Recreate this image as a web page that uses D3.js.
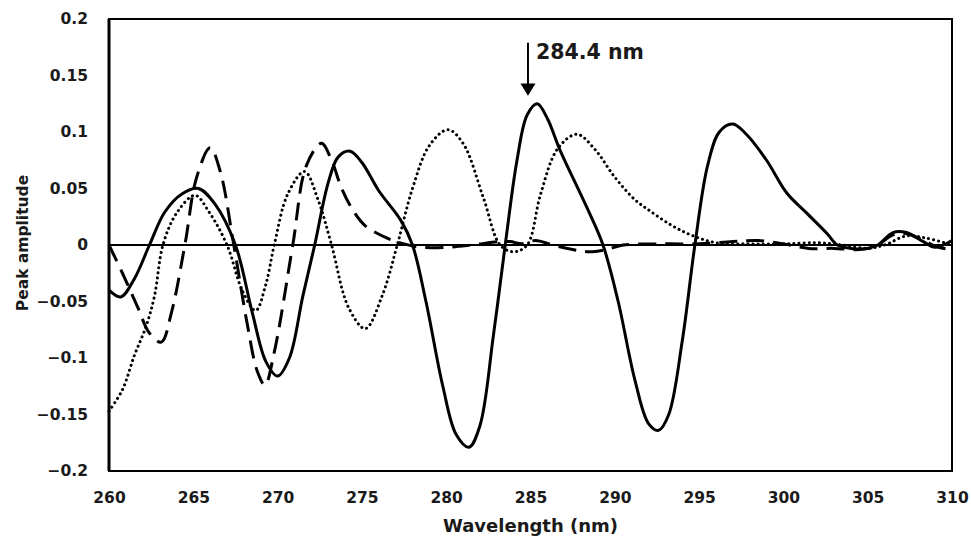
<!DOCTYPE html>
<html>
<head>
<meta charset="utf-8">
<script src="https://cdn.jsdelivr.net/npm/d3@7"></script>
<style>
  body { margin: 0; background: #fff; }
  svg { display: block; font-family: 'DejaVu Sans', sans-serif; font-weight: bold; }
</style>
</head>
<body>
<div id="container"></div>
<script>
// wavelength (nm) / peak amplitude pairs
const solidSeries = [
  [260.0, -0.040], [260.7, -0.046], [261.5, -0.030], [262.4, 0.000], [263.3, 0.029],
  [264.3, 0.045], [265.3, 0.050], [266.3, 0.036], [267.5, 0.000], [268.5, -0.060],
  [269.3, -0.103], [270.0, -0.116], [270.7, -0.100], [271.5, -0.045], [272.2, 0.000],
  [273.0, 0.055], [273.6, 0.078], [274.3, 0.083], [275.0, 0.073], [276.0, 0.048],
  [277.3, 0.022], [278.0, 0.000], [278.8, -0.050], [279.8, -0.125], [280.6, -0.168],
  [281.35, -0.179], [282.0, -0.160], [282.8, -0.080], [283.5, 0.000], [284.2, 0.075],
  [284.8, 0.115], [285.4, 0.125], [286.0, 0.112], [286.75, 0.084], [288.35, 0.033],
  [289.3, 0.000], [290.2, -0.050], [291.2, -0.120], [292.0, -0.158], [292.6, -0.164],
  [293.2, -0.150], [294.0, -0.085], [294.75, 0.000], [295.5, 0.070], [296.2, 0.100],
  [297.0, 0.107], [297.8, 0.098], [299.0, 0.075], [300.2, 0.046], [301.4, 0.028],
  [302.6, 0.010], [303.2, 0.000], [304.0, -0.003], [305.0, -0.003], [305.6, 0.000],
  [306.5, 0.011], [307.3, 0.011], [308.3, 0.003], [309.0, -0.002], [310.0, 0.004]
];

const dashedSeries = [
  [260.0, 0.000], [260.8, -0.025], [261.7, -0.055], [262.4, -0.078], [263.1, -0.086],
  [263.7, -0.060], [264.5, 0.000], [265.2, 0.060], [266.0, 0.086], [266.6, 0.065],
  [267.4, 0.000], [268.2, -0.070], [268.8, -0.112], [269.25, -0.124], [269.8, -0.095],
  [270.9, 0.000], [271.7, 0.070], [272.6, 0.090], [273.2, 0.075], [273.8, 0.050],
  [274.5, 0.030], [275.2, 0.017], [276.5, 0.006], [277.5, 0.001], [278.5, -0.002],
  [280.0, -0.002], [281.5, 0.000], [283.2, 0.003], [283.8, 0.003], [284.5, 0.001],
  [285.3, 0.004], [286.3, 0.000], [287.5, -0.004], [288.5, -0.006], [289.5, -0.004],
  [290.5, 0.000], [293.0, 0.001], [295.0, 0.001], [297.0, 0.003], [298.5, 0.004],
  [300.0, 0.001], [301.5, -0.003], [303.0, -0.003], [304.5, -0.004], [305.5, -0.001],
  [306.5, 0.009], [307.3, 0.010], [308.3, 0.004], [309.2, -0.002], [310.0, -0.004]
];

const dottedSeries = [
  [260.0, -0.147], [260.8, -0.128], [261.5, -0.098], [262.2, -0.072], [262.7, -0.045],
  [263.2, 0.000], [264.0, 0.028], [265.1, 0.044], [265.9, 0.030], [267.0, 0.000],
  [267.9, -0.040], [268.7, -0.058], [269.3, -0.035], [269.8, 0.000], [270.6, 0.045],
  [271.6, 0.065], [272.4, 0.040], [273.2, 0.000], [274.2, -0.055], [275.2, -0.074],
  [276.2, -0.045], [277.1, 0.000], [278.0, 0.050], [279.0, 0.088], [280.1, 0.102],
  [281.0, 0.090], [282.2, 0.042], [283.2, 0.000], [284.0, -0.006], [284.8, 0.000],
  [285.6, 0.045], [286.6, 0.085], [287.75, 0.098], [288.8, 0.085], [290.0, 0.060],
  [291.2, 0.040], [292.1, 0.030], [293.3, 0.018], [294.5, 0.009], [296.0, 0.002],
  [298.0, 0.001], [300.0, 0.001], [302.0, 0.002], [303.5, 0.000], [305.0, -0.003],
  [306.0, 0.000], [307.3, 0.008], [308.5, 0.006], [310.0, 0.000]
];

const xTicks = [260, 265, 270, 275, 280, 285, 290, 295, 300, 305, 310];
const yTicks = [-0.2, -0.15, -0.1, -0.05, 0, 0.05, 0.1, 0.15, 0.2];
const peakMarker = 284.85;
const peakLabel = '284.4 nm';

const width = 971, height = 537;
const margin = { top: 19, right: 19, bottom: 66, left: 109 };

const svg = d3.select('#container').append('svg')
  .attr('width', width)
  .attr('height', height);

const x = d3.scaleLinear().domain([260, 310]).range([margin.left, width - margin.right]);
const y = d3.scaleLinear().domain([-0.2, 0.2]).range([height - margin.bottom, margin.top]);

const fmt = (d) => d === 0 ? '0' : d3.format('')(+d.toFixed(2));

// axes (labels only, the frame is drawn separately)
const xAxis = svg.append('g')
  .attr('transform', `translate(0, ${y(-0.2)})`)
  .call(d3.axisBottom(x).tickValues(xTicks).tickSize(0).tickPadding(21).tickFormat(fmt));

const yAxis = svg.append('g')
  .attr('transform', `translate(${x(260)}, 0)`)
  .call(d3.axisLeft(y).tickValues(yTicks).tickSize(0).tickPadding(21).tickFormat(fmt));

[xAxis, yAxis].forEach((g) => {
  g.select('.domain').remove();
  g.selectAll('text')
    .style('font-family', "'DejaVu Sans', sans-serif")
    .style('font-weight', 'bold')
    .style('font-size', '15.5px')
    .attr('fill', '#1a1a1a');
});

// zero line
svg.append('line')
  .attr('x1', x(260)).attr('x2', x(310))
  .attr('y1', y(0)).attr('y2', y(0))
  .attr('stroke', '#000')
  .attr('stroke-width', 2.2);

const line = d3.line()
  .x((d) => x(d[0]))
  .y((d) => y(d[1]))
  .curve(d3.curveCatmullRom.alpha(0.5));

svg.append('path')
  .datum(dottedSeries)
  .attr('d', line)
  .attr('fill', 'none')
  .attr('stroke', '#000')
  .attr('stroke-width', 3)
  .attr('stroke-linecap', 'round')
  .attr('stroke-dasharray', '0.1 5');

svg.append('path')
  .datum(dashedSeries)
  .attr('d', line)
  .attr('fill', 'none')
  .attr('stroke', '#000')
  .attr('stroke-width', 3)
  .attr('stroke-dasharray', '18 9');

svg.append('path')
  .datum(solidSeries)
  .attr('d', line)
  .attr('fill', 'none')
  .attr('stroke', '#000')
  .attr('stroke-width', 3);

// plot frame
svg.append('rect')
  .attr('x', x(260)).attr('y', y(0.2))
  .attr('width', x(310) - x(260))
  .attr('height', y(-0.2) - y(0.2))
  .attr('fill', 'none')
  .attr('stroke', '#000')
  .attr('stroke-width', 2);

svg.append('line')
  .attr('x1', x(260)).attr('x2', x(260))
  .attr('y1', y(0.2)).attr('y2', y(-0.2))
  .attr('stroke', '#000')
  .attr('stroke-width', 3);

// arrow marking the peak
const ax = x(peakMarker);
svg.append('line')
  .attr('x1', ax).attr('x2', ax)
  .attr('y1', y(0.179)).attr('y2', y(0.142))
  .attr('stroke', '#000')
  .attr('stroke-width', 2);

svg.append('path')
  .attr('d', `M${ax - 7.5},${y(0.143)} L${ax + 7.5},${y(0.143)} L${ax},${y(0.132)} Z`)
  .attr('fill', '#000');

svg.append('text')
  .attr('x', ax + 8)
  .attr('y', 59)
  .style('font-size', '20.5px')
  .attr('fill', '#1a1a1a')
  .text(peakLabel);

// axis titles
svg.append('text')
  .attr('x', (x(260) + x(310)) / 2)
  .attr('y', 532)
  .attr('text-anchor', 'middle')
  .style('font-size', '18px')
  .attr('fill', '#1a1a1a')
  .text('Wavelength (nm)');

svg.append('text')
  .attr('transform', `translate(28, ${y(0) - 2}) rotate(-90)`)
  .attr('text-anchor', 'middle')
  .style('font-size', '15.5px')
  .attr('fill', '#1a1a1a')
  .text('Peak amplitude');
</script>
</body>
</html>
